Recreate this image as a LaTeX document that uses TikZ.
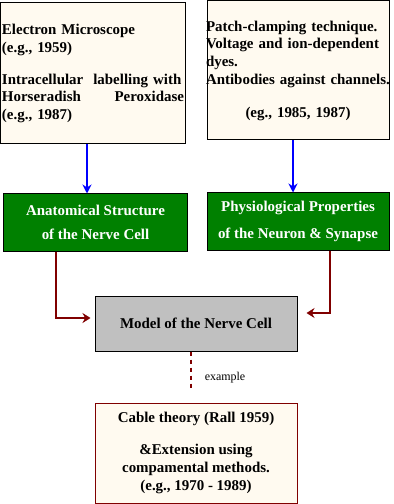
\documentclass[tikz,border=0pt]{standalone}
\usepackage{fontspec}
\setmainfont{Liberation Serif}
\usetikzlibrary{arrows.meta,calc}
\definecolor{creambg}{HTML}{FFFAF0}
\definecolor{cellgreen}{HTML}{008000}
\definecolor{darkred}{HTML}{800000}
\definecolor{modelgray}{HTML}{C0C0C0}

\begin{document}
\begin{tikzpicture}[x=1bp, y=-1bp,
  src/.style={rectangle, draw, line width=1bp, fill=creambg, inner xsep=#1, inner ysep=0pt, minimum height=140bp, align=left, font=\fontsize{15}{17.8}\selectfont\bfseries},
  lvl/.style={rectangle, draw, line width=1bp, fill=cellgreen, text=white, minimum width=183bp, minimum height=57bp, align=center, font=\fontsize{15}{#1}\selectfont\bfseries},
  model/.style={rectangle, draw, line width=1bp, fill=modelgray, minimum width=202bp, minimum height=55bp, font=\fontsize{15}{17.5}\selectfont\bfseries},
  theory/.style={rectangle, draw=darkred, line width=1bp, fill=creambg, minimum width=202bp, minimum height=100bp, align=center, font=\fontsize{15}{18}\selectfont\bfseries},
  bluearr/.style={-{Stealth[length=9bp,width=9bp]}, line width=2.6bp, blue},
  redarr/.style={-{Stealth[length=8bp,width=10bp]}, line width=2.8bp, darkred},
  exline/.style={line width=2.5bp, darkred, dash pattern=on 4bp off 4bp}
]
  \useasboundingbox (0,0) rectangle (393,504);
  \node[src=1bp, text width=182bp, minimum height=141bp] (em) at (93,73.5) {Electron Microscope\\(e.g., 1959)\\[14bp]Intracellular\ \ labelling with\\Horseradish\hfill Peroxidase\\(e.g., 1987)};
  \node[src=-1bp, text width=184bp, minimum height=139bp] (pc) at (298,70.5) {Patch-clamping technique.\\Voltage and ion-dependent\\dyes.\\Antibodies against channels.\\[15bp]\hfill(eg., 1985, 1987)\hfill\mbox{}};
  \node[lvl=24bp] (anat) at (95.5,222.5) {Anatomical Structure\\of the Nerve Cell};
  \node[lvl=27bp, minimum width=182bp] (phys) at (298,221.5) {Physiological Properties\\of the Neuron \& Synapse};
  \node[model] (mdl) at (196,323.5) {Model of the Nerve Cell};
  \node[theory] (cable) at (196,453) {Cable theory (Rall 1959)\\[14bp]\&Extension using\\compamental methods.\\(e.g., 1970 - 1989)};
  \draw[bluearr] ([xshift=-6bp]em.south) -- ([xshift=-6bp]em.south |- anat.north);
  \draw[bluearr] ([xshift=-5bp]pc.south) -- ([xshift=-5bp]pc.south |- phys.north);
  \draw[redarr, shorten >=4bp] ([xshift=-39.5bp]anat.south) |- ([yshift=5.5bp]mdl.west);
  \draw[redarr, shorten >=9bp] ([xshift=32bp]phys.south) |- ([yshift=10.5bp]mdl.east);
  \draw[exline] ([xshift=-5bp]mdl.south) -- ([xshift=-5bp,yshift=13bp]cable.north);
  \node[font=\fontsize{12}{14}\selectfont] (ex) at (225,378) {example};
\end{tikzpicture}
\end{document}
